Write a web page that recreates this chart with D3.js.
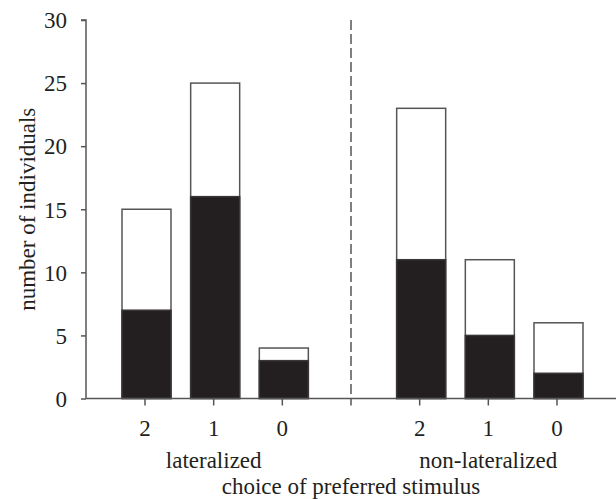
<!DOCTYPE html>
<html><head><meta charset="utf-8">
<script src="https://cdn.jsdelivr.net/npm/d3@7"></script>
<style>body{margin:0;background:#fff}svg{display:block}text{font-family:"Liberation Serif","Times New Roman",serif;fill:#231f20}</style>
</head><body><svg id="c" width="616" height="499"></svg>
<script>
const groups = ["lateralized", "non-lateralized"];
const choices = ["2", "1", "0"];
const totalLat = [15, 25, 4];
const blackLat = [7, 16, 3];
const totalNon = [23, 11, 6];
const blackNon = [11, 5, 2];
const yTicks = [0, 5, 10, 15, 20, 25, 30];

const svg = d3.select("#c");
const x = d3.scaleLinear().domain([0, 6]).range([145, 557]);
const y = d3.scaleLinear().domain([0, 30]).range([398.5, 20]);
const barW = 49;
const dark = "#231f20", edge = "#555";
const fs = "23px";

const bars = [];
choices.forEach((c, i) => bars.push({pos: i, label: c, total: totalLat[i], black: blackLat[i]}));
choices.forEach((c, i) => bars.push({pos: i + 4, label: c, total: totalNon[i], black: blackNon[i]}));

// white (total) bars
svg.selectAll("rect.tot").data(bars).join("rect")
  .attr("x", d => x(d.pos) - barW / 2 + 1.5).attr("width", barW)
  .attr("y", d => y(d.total)).attr("height", d => y(0) - y(d.total))
  .attr("fill", "#fff").attr("stroke", edge).attr("stroke-width", 1.5);
// black bars
svg.selectAll("rect.blk").data(bars).join("rect")
  .attr("x", d => x(d.pos) - barW / 2 + 1.5).attr("width", barW)
  .attr("y", d => y(d.black)).attr("height", d => y(0) - y(d.black))
  .attr("fill", dark).attr("stroke", "#3a3637").attr("stroke-width", 1.5);

// y axis
const yAxis = d3.axisLeft(y).tickValues(yTicks).tickSize(5).tickPadding(14);
const gy = svg.append("g").attr("transform", "translate(86,0)").call(yAxis);
gy.select(".domain").attr("stroke", edge).attr("stroke-width", 1.5).attr("d", `M-5,${y(30)}H0V${y(0)}`);
gy.selectAll(".tick line").attr("stroke", edge).attr("stroke-width", 1.5);
gy.selectAll(".tick text").style("font-size", fs).attr("fill", dark).attr("dy", "0.34em");

// x axis
const tickPos = [0, 1, 2, 3, 4, 5, 6];
svg.append("line").attr("x1", 86).attr("x2", 616).attr("y1", y(0)).attr("y2", y(0))
  .attr("stroke", edge).attr("stroke-width", 1.5);
svg.selectAll("line.xt").data(tickPos).join("line")
  .attr("x1", d => x(d)).attr("x2", d => x(d)).attr("y1", y(0)).attr("y2", y(0) + 7)
  .attr("stroke", edge).attr("stroke-width", 1.5);
svg.selectAll("text.xl").data(bars).join("text")
  .attr("x", d => x(d.pos)).attr("y", 436).attr("text-anchor", "middle")
  .style("font-size", fs).text(d => d.label);

// divider
svg.append("line").attr("x1", x(3)).attr("x2", x(3)).attr("y1", y(30)).attr("y2", y(0))
  .attr("stroke", edge).attr("stroke-width", 1.5).attr("stroke-dasharray", "10,4");

// group labels
svg.selectAll("text.gl").data(groups).join("text")
  .attr("x", (d, i) => x(i === 0 ? 1 : 5)).attr("y", 468).attr("text-anchor", "middle")
  .style("font-size", fs).text(d => d);
svg.append("text").attr("x", x(3)).attr("y", 494).attr("text-anchor", "middle")
  .style("font-size", fs).text("choice of preferred stimulus");
svg.append("text").attr("transform", `translate(35,${y(15)}) rotate(-90)`).attr("text-anchor", "middle")
  .style("font-size", fs).text("number of individuals");
</script></body></html>
